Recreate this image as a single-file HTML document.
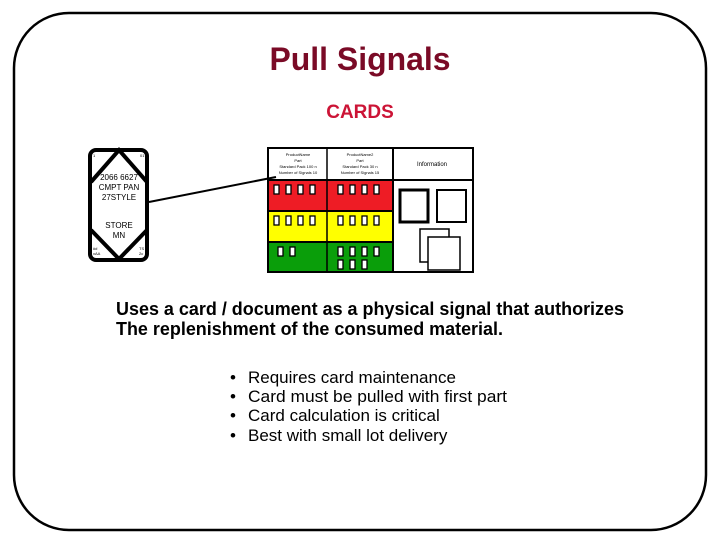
<!DOCTYPE html>
<html><head><meta charset="utf-8"><style>
html,body{margin:0;padding:0;background:#fff;}
svg{display:block;font-family:"Liberation Sans",Arial,sans-serif;}
</style></head><body>
<svg width="720" height="540" viewBox="0 0 720 540" xmlns="http://www.w3.org/2000/svg">
<rect x="14" y="13" width="692" height="517" rx="55" ry="55" fill="#fff" stroke="#000" stroke-width="2.5"/>
<text x="360" y="70" text-anchor="middle" font-size="32" font-weight="bold" fill="#7a0a26" textLength="181" lengthAdjust="spacingAndGlyphs">Pull Signals</text>
<text x="360" y="118" text-anchor="middle" font-size="19" font-weight="bold" fill="#cc1436">CARDS</text>

<!-- kanban card -->
<rect x="90" y="150" width="57" height="110" rx="6" fill="#fff" stroke="#000" stroke-width="4"/>
<polyline points="91,182 119,150 147,182" fill="none" stroke="#000" stroke-width="4"/>
<polyline points="91,230 119,259 147,230" fill="none" stroke="#000" stroke-width="4"/>
<g font-size="8" text-anchor="middle">
<text x="119" y="180">2066 6627</text>
<text x="119" y="190">CMPT PAN</text>
<text x="119" y="200">27STYLE</text>
<text x="119" y="228">STORE</text>
<text x="119" y="238">MN</text>
</g>
<g font-size="4">
<text x="93" y="157">1</text><text x="140" y="157">01</text>
<text x="93" y="250">##</text><text x="93" y="255">xAA</text>
<text x="139" y="250">TS</text><text x="139" y="255">2c</text>
</g>

<!-- line -->
<line x1="149" y1="202" x2="276" y2="177" stroke="#000" stroke-width="2"/>

<!-- board -->
<rect x="268" y="180" width="125" height="31" fill="#ee1c25"/>
<rect x="268" y="211" width="125" height="31" fill="#ffff00"/>
<rect x="268" y="242" width="125" height="30" fill="#0a9e0a"/>
<rect x="268" y="148" width="205" height="124" fill="none" stroke="#000" stroke-width="2"/>
<line x1="327" y1="148" x2="327" y2="272" stroke="#000" stroke-width="1.5"/>
<line x1="393" y1="148" x2="393" y2="272" stroke="#000" stroke-width="2"/>
<line x1="268" y1="180" x2="473" y2="180" stroke="#000" stroke-width="2"/>
<line x1="268" y1="211" x2="393" y2="211" stroke="#000" stroke-width="2"/>
<line x1="268" y1="242" x2="393" y2="242" stroke="#000" stroke-width="2"/>
<g font-size="4" text-anchor="middle">
<text x="298" y="156">ProductName</text><text x="298" y="162">Part</text>
<text x="298" y="168">Standard Pack 100 n</text><text x="298" y="174">Number of Signals 10</text>
<text x="360" y="156">ProductName2</text><text x="360" y="162">Part</text>
<text x="360" y="168">Standard Pack 30 n</text><text x="360" y="174">Number of Signals 15</text>
</g>
<text x="432" y="166" font-size="6" text-anchor="middle">Information</text>

<g fill="#fff" stroke="#000" stroke-width="1.3">
<rect x="274" y="185" width="5" height="9"/><rect x="286" y="185" width="5" height="9"/><rect x="298" y="185" width="5" height="9"/><rect x="310" y="185" width="5" height="9"/>
<rect x="338" y="185" width="5" height="9"/><rect x="350" y="185" width="5" height="9"/><rect x="362" y="185" width="5" height="9"/><rect x="374" y="185" width="5" height="9"/>
<rect x="274" y="216" width="5" height="9"/><rect x="286" y="216" width="5" height="9"/><rect x="298" y="216" width="5" height="9"/><rect x="310" y="216" width="5" height="9"/>
<rect x="338" y="216" width="5" height="9"/><rect x="350" y="216" width="5" height="9"/><rect x="362" y="216" width="5" height="9"/><rect x="374" y="216" width="5" height="9"/>
<rect x="278" y="247" width="5" height="9"/><rect x="290" y="247" width="5" height="9"/>
<rect x="338" y="247" width="5" height="9"/><rect x="350" y="247" width="5" height="9"/><rect x="362" y="247" width="5" height="9"/><rect x="374" y="247" width="5" height="9"/>
<rect x="338" y="260" width="5" height="9"/><rect x="350" y="260" width="5" height="9"/><rect x="362" y="260" width="5" height="9"/>
</g>

<rect x="400" y="190" width="28" height="32" fill="#fff" stroke="#000" stroke-width="3"/>
<rect x="437" y="190" width="29" height="32" fill="#fff" stroke="#000" stroke-width="2"/>
<rect x="420" y="229" width="29" height="33" fill="#fff" stroke="#000" stroke-width="1.5"/>
<rect x="428" y="237" width="32" height="33" fill="#fff" stroke="#000" stroke-width="1.5"/>

<g font-size="18" font-weight="bold">
<text x="116" y="315" textLength="508" lengthAdjust="spacingAndGlyphs">Uses a card / document as a physical signal that authorizes</text>
<text x="116" y="335" textLength="387" lengthAdjust="spacingAndGlyphs">The replenishment of the consumed material.</text>
</g>
<g font-size="17">
<text x="230" y="383">•</text><text x="248" y="383">Requires card maintenance</text>
<text x="230" y="402">•</text><text x="248" y="402" textLength="259" lengthAdjust="spacingAndGlyphs">Card must be pulled with first part</text>
<text x="230" y="421">•</text><text x="248" y="421">Card calculation is critical</text>
<text x="230" y="441">•</text><text x="248" y="441">Best with small lot delivery</text>
</g>
</svg>
</body></html>
